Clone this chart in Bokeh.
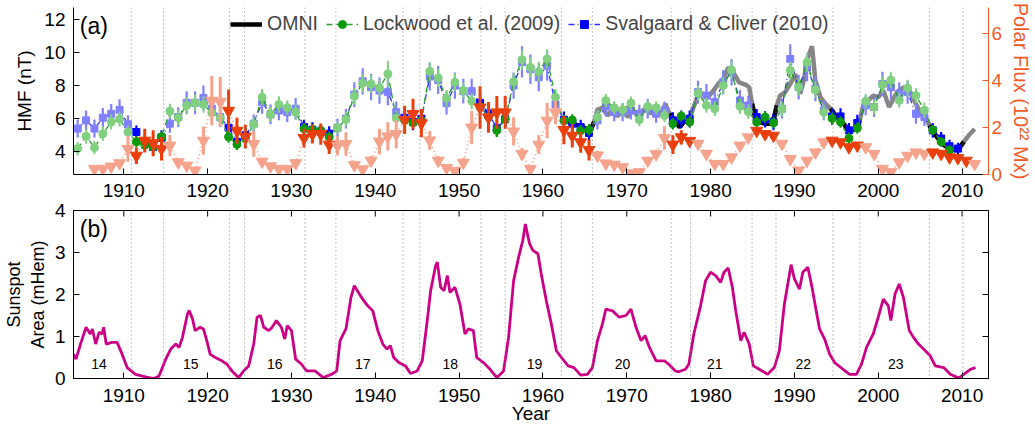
import numpy as np
from bokeh.plotting import figure
from bokeh.layouts import column
from bokeh.models import Range1d, LinearAxis, Span, Legend, LegendItem, FixedTicker, Label
from bokeh.core.properties import value
from bokeh.embed import file_html
from bokeh.resources import INLINE

FONT = "Liberation Sans"

# ---------------- data ----------------
LOCK_START = 1904
LOCKWOOD = [4.16, 4.91, 4.22, 5.07, 5.78, 5.96, 5.17, 4.57, 4.36, 4.26, 4.87, 6.44, 6.04, 6.79, 6.95,
            6.85, 6.35, 6.04, 4.87, 4.42, 4.77, 5.64, 7.29, 6.24, 6.85, 6.65, 6.38, 5.37, 5.31, 5.27,
            4.87, 5.43, 5.94, 7.35, 8.14, 8.10, 7.86, 8.71, 6.02, 5.88, 5.74, 5.88, 8.87, 8.46, 7.23,
            8.20, 7.70, 7.05, 6.70, 6.10, 5.27, 5.94, 8.24, 9.58, 9.11, 8.85, 9.62, 7.29, 5.85, 5.90,
            5.25, 5.31, 6.08, 7.09, 6.65, 6.53, 6.93, 5.92, 6.73, 6.65, 6.18, 5.68, 6.14, 5.78, 7.54,
            6.79, 6.59, 8.00, 8.95, 6.73, 6.41, 5.78, 6.08, 5.73, 6.57, 8.92, 7.90, 9.41, 7.74, 6.38,
            6.00, 5.78, 4.79, 5.41, 7.04, 6.69, 8.05, 8.34, 7.11, 7.85, 7.39, 6.50, 5.29, 4.57, 4.06]
LOCK_ERR = [0.4, 0.45, 0.4, 0.45, 0.45, 0.45, 0.4, 0.35, 0.35, 0.35, 0.35, 0.45, 0.45, 0.5, 0.5,
            0.5, 0.45, 0.45, 0.35, 0.35, 0.35, 0.4, 0.5, 0.45, 0.5, 0.45, 0.45, 0.35, 0.35, 0.35,
            0.35, 0.4, 0.45, 0.5, 0.55, 0.55, 0.55, 0.8, 0.45, 0.4, 0.4, 0.4, 0.55, 0.55, 0.5,
            0.55, 0.5, 0.5, 0.4, 0.4, 0.4, 0.4, 0.55, 0.6, 0.6, 0.6, 0.6, 0.5, 0.35, 0.35,
            0.35, 0.35, 0.4, 0.4, 0.4, 0.4, 0.4, 0.4, 0.4, 0.4, 0.4, 0.35, 0.35, 0.35, 0.45,
            0.45, 0.45, 0.5, 0.55, 0.45, 0.45, 0.35, 0.35, 0.35, 0.45, 0.55, 0.5, 0.55, 0.5, 0.45,
            0.35, 0.35, 0.35, 0.35, 0.45, 0.45, 0.5, 0.5, 0.45, 0.5, 0.45, 0.45, 0.3, 0.3, 0.3]

SVAL_START = 1904
SVALGAARD = [5.38, 5.88, 5.38, 6.04, 6.28, 6.52, 5.64, 5.17, 4.57, 4.26, 4.83, 5.68, 6.08, 6.95, 6.95,
             7.25, 6.60, 6.08, 5.43, 4.57, 4.97, 5.68, 6.99, 6.24, 6.48, 6.38, 6.59, 5.47, 5.31, 5.17,
             5.07, 5.43, 5.98, 7.45, 8.26, 7.90, 7.70, 7.60, 6.38, 6.04, 5.78, 5.98, 8.55, 8.34, 6.93,
             8.00, 7.66, 7.66, 6.95, 6.30, 5.40, 5.95, 8.00, 9.45, 9.00, 8.51, 9.21, 6.85, 5.92, 5.68,
             5.47, 5.11, 5.88, 6.73, 6.38, 6.38, 6.48, 6.28, 6.59, 6.28, 6.48, 5.88, 5.92, 5.98, 7.60,
             7.39, 6.99, 8.20, 8.80, 7.09, 6.79, 6.08, 5.94, 5.78, 6.59, 9.62, 7.90, 9.11, 7.80, 6.48,
             6.12, 6.12, 5.27, 5.72, 6.79, 6.69, 8.10, 7.90, 7.50, 7.60, 6.28, 6.08, 5.27, 4.77, 4.30,
             4.16]
SVAL_ERR = [0.55, 0.6, 0.55, 0.6, 0.6, 0.65, 0.55, 0.4, 0.45, 0.4, 0.45, 0.55, 0.6, 0.7, 0.7,
            0.75, 0.7, 0.6, 0.45, 0.45, 0.45, 0.55, 0.7, 0.6, 0.6, 0.6, 0.65, 0.45, 0.45, 0.45,
            0.45, 0.55, 0.6, 0.75, 0.8, 0.8, 0.8, 0.8, 0.65, 0.5, 0.5, 0.5, 0.85, 0.85, 0.7,
            0.8, 0.75, 0.75, 0.6, 0.6, 0.5, 0.55, 0.8, 0.95, 0.9, 0.85, 0.9, 0.7, 0.5, 0.5,
            0.45, 0.45, 0.55, 0.6, 0.55, 0.55, 0.55, 0.55, 0.6, 0.55, 0.55, 0.5, 0.5, 0.5, 0.7,
            0.7, 0.65, 0.75, 0.8, 0.65, 0.6, 0.5, 0.5, 0.5, 0.6, 0.9, 0.75, 0.85, 0.75, 0.6,
            0.5, 0.5, 0.45, 0.5, 0.6, 0.6, 0.75, 0.75, 0.7, 0.7, 0.6, 0.55, 0.45, 0.4, 0.4,
            0.35]

FLUX_START = 1906
POLAR_FLUX = [0.24, 0.24, 0.34, 0.48, 1.09, 0.80, 1.44, 1.33, 1.09, 1.23, 0.52, 0.38, 0.17, 1.44,
              3.14, 3.09, 2.71, 1.86, 1.61, 1.30, 0.55, 0.35, 0.24, 0.24, 0.48, 1.55, 1.72, 1.72,
              1.27, 1.22, 1.30, 0.40, 0.22, 0.59, 1.40, 1.62, 1.72, 2.32, 2.57, 2.18, 1.45, 0.59,
              0.28, 0.15, 0.50, 2.00, 2.85, 2.43, 2.64, 2.64, 1.83, 0.88, 0.24, 1.27, 2.29, 2.64,
              1.89, 1.65, 1.37, 1.04, 0.81, 0.47, 0.42, 0.31, 0.05, 0.10, 0.59, 0.86, 1.55, 1.27,
              1.58, 1.43, 1.31, 0.88, 0.45, 0.45, 0.73, 1.23, 1.58, 1.86, 1.72, 1.65, 1.31, 0.66,
              0.17, 0.59, 0.94, 1.37, 1.44, 1.37, 1.16, 1.23, 1.16, 0.88, 0.24, 0.10, 0.52, 0.80,
              0.94, 0.88, 0.94, 0.88, 0.73, 0.70, 0.59, 0.45]
FLUX_ERR = [0.1, 0.1, 0.1, 0.12, 0.55, 0.35, 0.5, 0.55, 0.5, 0.45, 0.15, 0.12, 0.1, 0.6,
            1.05, 1.05, 0.9, 0.55, 0.5, 0.55, 0.12, 0.12, 0.1, 0.1, 0.15, 0.4, 0.4, 0.45,
            0.4, 0.4, 0.5, 0.12, 0.1, 0.2, 0.55, 0.6, 0.6, 0.6, 0.65, 0.6, 0.4, 0.2,
            0.1, 0.08, 0.2, 0.7, 0.9, 0.65, 0.7, 0.7, 0.6, 0.25, 0.1, 0.4, 0.75, 0.5,
            0.6, 0.5, 0.45, 0.45, 0.2, 0.1, 0.1, 0.1, 0.08, 0.08, 0.15, 0.2, 0.5, 0.4,
            0.3, 0.15, 0.1, 0.1, 0.08, 0.08, 0.1, 0.1, 0.12, 0.12, 0.1, 0.1, 0.1, 0.08,
            0.08, 0.08, 0.1, 0.1, 0.1, 0.1, 0.1, 0.1, 0.1, 0.08, 0.08, 0.08, 0.08, 0.1,
            0.1, 0.1, 0.1, 0.1, 0.1, 0.1, 0.08, 0.08]

OMNI_T = [1962.8, 1963.6, 1964.4, 1965.2, 1965.7, 1966.1, 1966.5, 1967.1, 1967.7, 1968.3, 1968.9,
          1969.5, 1970.1, 1970.7, 1971.3, 1971.9, 1972.5, 1972.9, 1973.5, 1974.1, 1974.6, 1975.1,
          1975.6, 1976.3, 1976.8, 1977.4, 1977.9, 1978.4, 1979.0, 1979.6, 1980.2, 1980.9, 1981.5,
          1982.1, 1982.6, 1983.4, 1984.2, 1984.6, 1984.95, 1985.3, 1985.9, 1986.5, 1987.1, 1987.6,
          1987.9, 1988.3, 1988.9, 1989.5, 1990.1, 1990.7, 1991.2, 1991.6, 1992.1, 1992.5, 1993.1,
          1993.7, 1994.3, 1994.9, 1995.5, 1996.1, 1996.6, 1997.2, 1997.8, 1998.2, 1998.8, 1999.4,
          2000.0, 2000.6, 2001.3, 2002.0, 2002.5, 2003.1, 2003.7, 2004.3, 2004.9, 2005.5, 2006.1,
          2006.7, 2007.3, 2007.9, 2008.5, 2009.1, 2009.6, 2010.2, 2010.8, 2011.5]
OMNI_V = [5.88, 5.68, 5.52, 5.37, 5.31, 5.78, 6.53, 6.65, 6.18, 6.53, 6.12,
          6.59, 6.08, 6.53, 6.12, 6.48, 6.65, 6.28, 6.65, 6.18, 6.89, 6.28,
          5.88, 5.47, 5.78, 5.88, 6.59, 7.29, 7.54, 7.25, 7.60, 8.10, 8.40,
          9.10, 8.90, 8.20, 8.05, 7.90, 6.90, 6.08, 5.78, 5.68, 5.68, 6.08,
          6.79, 7.39, 7.60, 8.10, 8.70, 7.50, 8.50, 9.72, 10.4, 8.30, 7.29,
          6.89, 6.59, 6.18, 5.88, 5.52, 5.17, 5.37, 5.88, 6.79, 7.09, 7.39,
          7.29, 7.70, 6.69, 7.39, 7.70, 7.90, 7.70, 7.09, 6.48, 6.18, 5.58,
          5.07, 4.67, 4.36, 4.16, 4.06, 4.16, 4.57, 4.97, 5.35]

SSA_T = [1904.0, 1904.3, 1904.9, 1905.5, 1906.0, 1906.25, 1906.65, 1907.05, 1907.4, 1907.6, 1907.9,
         1908.6, 1909.2, 1909.8, 1910.4, 1911.4, 1912.6, 1913.6, 1914.2, 1915.0, 1915.6, 1916.2,
         1916.6, 1917.0, 1917.6, 1917.8, 1918.2, 1918.5, 1919.1, 1919.5, 1919.9, 1920.3, 1920.9,
         1921.7, 1922.3, 1922.9, 1923.7, 1924.3, 1924.9, 1925.5, 1925.9, 1926.3, 1926.7, 1927.3,
         1927.7, 1928.2, 1928.8, 1929.2, 1929.5, 1930.0, 1930.5, 1931.2, 1931.8, 1932.8, 1933.8,
         1934.8, 1935.4, 1935.8, 1936.5, 1937.1, 1937.5, 1938.1, 1938.5, 1939.1, 1939.7, 1940.3,
         1940.9, 1941.4, 1941.8, 1942.2, 1942.8, 1943.6, 1944.2, 1945.0, 1945.6, 1946.2, 1946.6,
         1947.2, 1947.4, 1947.8, 1948.2, 1948.6, 1948.9, 1949.5, 1950.1, 1950.7, 1951.1, 1951.7,
         1952.1, 1952.9, 1953.7, 1954.5, 1955.3, 1955.9, 1956.5, 1957.1, 1957.6, 1957.9, 1958.4,
         1958.8, 1959.4, 1959.8, 1960.4, 1961.0, 1961.6, 1962.2, 1963.0, 1963.7, 1964.5, 1965.3,
         1965.9, 1966.5, 1967.1, 1967.5, 1968.3, 1969.1, 1969.9, 1970.5, 1971.1, 1971.7, 1972.2,
         1972.7, 1973.5, 1974.5, 1975.0, 1975.8, 1976.2, 1977.0, 1977.4, 1978.0, 1978.8, 1979.4,
         1980.0, 1980.6, 1981.2, 1981.6, 1982.1, 1982.6, 1983.0, 1983.6, 1984.0, 1984.6, 1985.1,
         1985.8, 1986.8, 1987.6, 1988.2, 1988.8, 1989.6, 1990.0, 1990.6, 1991.0, 1991.6, 1992.1,
         1992.6, 1993.0, 1993.6, 1994.2, 1994.8, 1995.8, 1996.6, 1997.4, 1998.0, 1998.6, 1999.4,
         2000.0, 2000.6, 2001.2, 2001.5, 2002.0, 2002.5, 2003.0, 2003.7, 2004.2, 2004.8, 2005.4,
         2006.2, 2006.8, 2007.8, 2008.6, 2009.6, 2010.2, 2011.0, 2011.6]
SSA_V = [0.58, 0.46, 0.86, 1.22, 1.06, 1.18, 0.82, 1.10, 1.06, 1.22, 0.82,
         0.86, 0.86, 0.58, 0.26, 0.10, 0.04, 0.00, 0.06, 0.46, 0.70, 0.82,
         0.74, 0.98, 1.54, 1.62, 1.42, 1.14, 1.22, 1.18, 0.90, 0.58, 0.50,
         0.42, 0.34, 0.18, 0.02, 0.18, 0.30, 0.82, 1.46, 1.50, 1.22, 1.14,
         1.22, 1.38, 1.22, 0.94, 1.26, 1.14, 0.46, 0.34, 0.18, 0.18, 0.02,
         0.10, 0.18, 0.90, 1.18, 1.93, 2.21, 2.01, 1.89, 1.73, 1.61, 1.14,
         0.82, 0.70, 0.78, 0.50, 0.38, 0.30, 0.12, 0.18, 0.42, 1.38, 2.09,
         2.69, 2.77, 2.17, 2.09, 2.45, 2.05, 2.17, 1.77, 1.06, 1.18, 1.14,
         0.50, 0.38, 0.22, 0.02, 0.18, 0.98, 2.33, 2.89, 3.29, 3.68, 3.21,
         3.05, 2.97, 2.49, 1.85, 1.30, 0.66, 0.50, 0.30, 0.26, 0.08, 0.10,
         0.26, 0.90, 1.30, 1.65, 1.61, 1.46, 1.50, 1.65, 1.22, 0.90, 1.02,
         0.74, 0.42, 0.42, 0.34, 0.18, 0.16, 0.22, 0.34, 1.06, 1.73, 2.33,
         2.53, 2.45, 2.29, 2.53, 2.63, 2.17, 1.61, 0.90, 1.10, 0.82, 0.30,
         0.22, 0.10, 0.26, 0.66, 1.77, 2.71, 2.37, 2.13, 2.53, 2.65, 2.17,
         1.61, 1.18, 0.94, 0.58, 0.38, 0.22, 0.10, 0.10, 0.34, 0.74, 1.06,
         1.46, 1.89, 1.73, 1.38, 2.01, 2.25, 1.93, 1.14, 0.98, 0.82, 0.70,
         0.54, 0.30, 0.26, 0.10, 0.01, 0.10, 0.22, 0.26]

CYCLE_NUMS = ["14", "15", "16", "17", "18", "19", "20", "21", "22", "23"]
CYCLE_X = [1907.05, 1918.0, 1928.0, 1938.5, 1948.95, 1959.0, 1969.5, 1980.5, 1991.05, 2002.1]

# dotted lines bounding the solar minimum intervals
MIN_LINES = [(1910.9, 1914.75), (1922.6, 1924.4), (1931.6, 1935.3), (1943.3, 1945.3),
             (1952.6, 1955.5), (1962.2, 1965.9), (1975.3, 1977.6), (1984.95, 1987.8),
             (1994.6, 1997.8), (2006.1, 2010.1)]
# annual means treated as "minimum" years (dark symbols)
MIN_YEARS = [(1911, 1914), (1922, 1924), (1931, 1934), (1943, 1945), (1952, 1955),
             (1962, 1965), (1975, 1977), (1985, 1987), (1994, 1997), (2006, 2010)]

XTICKS = [1910, 1920, 1930, 1940, 1950, 1960, 1970, 1980, 1990, 2000, 2010]
HMF_TICKS = [4, 6, 8, 10, 12]
FLUX_TICKS = [0, 2, 4, 6]
SSA_TICKS = [0, 1, 2, 3, 4]

# ---------------- colours ----------------
G_LIGHT, G_DARK, G_LINE = "#80d080", "#0a9a0a", "#2aa02a"
B_LIGHT, B_DARK, B_LINE = "#8080ff", "#0000ff", "#3030ff"
F_LIGHT, F_DARK, F_AXIS = "#f5a38c", "#ea3f0c", "#f05a28"
SSA_COL = "#cc0085"


def is_min(yr):
    return any(a <= int(yr) <= b for a, b in MIN_YEARS)


def style_axis(ax, size="19px"):
    ax.major_label_text_font = FONT
    ax.major_label_text_font_size = size
    ax.axis_label_text_font = FONT
    ax.axis_label_text_font_size = size
    ax.axis_label_text_font_style = "normal"
    ax.major_tick_in = 6
    ax.major_tick_out = 0
    ax.minor_tick_line_color = None
    ax.axis_line_color = "black"
    ax.major_tick_line_color = "black"
    ax.major_label_text_color = "black"
    ax.axis_label_text_color = "black"


X0, X1 = 1904.0, 2013.15
FLUX_RANGE = (0, 7.1)
px_per_year = 921.0 / (X1 - X0)

# ---------------- panel (a) ----------------
p1 = figure(width=1035, height=206, x_range=Range1d(X0, X1), y_range=Range1d(2.58, 12.76),
            output_backend="svg", toolbar_location=None,
            min_border_left=71, min_border_right=43, min_border_top=7, min_border_bottom=32)
p1.outline_line_color = None
p1.grid.visible = False
p1.extra_y_ranges = {"flux": Range1d(*FLUX_RANGE)}

p1.xaxis.ticker = FixedTicker(ticks=XTICKS)
p1.yaxis.ticker = FixedTicker(ticks=HMF_TICKS)
p1.yaxis.axis_label = "HMF (nT)"
for ax in p1.xaxis + p1.yaxis:
    style_axis(ax)
p1.xaxis.major_label_standoff = 9
p1.yaxis.major_label_standoff = 8
p1.yaxis.axis_label_standoff = 6

rax = LinearAxis(y_range_name="flux", ticker=FixedTicker(ticks=FLUX_TICKS),
                 axis_label="Polar Flux (10²² Mx)")
style_axis(rax)
rax.axis_label_text_font_size = "20px"
rax.axis_line_color = F_AXIS
rax.major_tick_line_color = F_AXIS
rax.major_label_text_color = F_AXIS
rax.axis_label_text_color = F_AXIS
rax.major_label_standoff = 3
rax.axis_label_standoff = 5
p1.add_layout(rax, "right")

for a, b in MIN_LINES:
    for loc in (a, b):
        p1.add_layout(Span(location=loc, dimension="height", line_color="#8a8a8a",
                           line_dash="1 3", line_width=1))

# OMNI
omni_t = np.array(OMNI_T)
omni_v = np.array(OMNI_V)
p1.line(omni_t, omni_v, line_color="#808080", line_width=4.5, line_alpha=0.95)
bxs, bys = [], []
for a, b in MIN_LINES:
    m = (omni_t >= a - 0.3) & (omni_t <= b + 0.3)
    if m.sum() >= 2:
        bxs.append(list(omni_t[m]))
        bys.append(list(omni_v[m]))
omni_black = p1.multi_line(bxs, bys, line_color="black", line_width=4.5)

# Svalgaard & Cliver
sx = [SVAL_START + i + 0.5 for i in range(len(SVALGAARD))]
scol = [B_DARK if is_min(x) else B_LIGHT for x in sx]
p1.segment(sx, [v - e for v, e in zip(SVALGAARD, SVAL_ERR)], sx,
           [v + e for v, e in zip(SVALGAARD, SVAL_ERR)], line_color=scol, line_width=2.2)
sval_line = p1.line(sx, SVALGAARD, line_color=B_LINE, line_width=1.3, line_dash="6 3 1 3")
p1.scatter(sx, SVALGAARD, marker="square", size=7, fill_color=scol, line_color=scol)
sval_leg = p1.scatter([sx[10]], [SVALGAARD[10]], marker="square", size=7,
                      fill_color=B_DARK, line_color=B_DARK)

# Lockwood
lx = [LOCK_START + i + 0.5 for i in range(len(LOCKWOOD))]
lcol = [G_DARK if is_min(x) else G_LIGHT for x in lx]
p1.segment(lx, [v - e for v, e in zip(LOCKWOOD, LOCK_ERR)], lx,
           [v + e for v, e in zip(LOCKWOOD, LOCK_ERR)], line_color=lcol, line_width=2)
lock_line = p1.line(lx, LOCKWOOD, line_color=G_LINE, line_width=1.3, line_dash="6 4")
p1.scatter(lx, LOCKWOOD, marker="circle", size=8, fill_color=lcol, line_color=lcol)
lock_leg = p1.scatter([lx[10]], [LOCKWOOD[10]], marker="circle", size=8,
                      fill_color=G_DARK, line_color=G_DARK)

# Polar flux
fx = [FLUX_START + i + 0.5 for i in range(len(POLAR_FLUX))]
fcol = [F_DARK if is_min(x) else F_LIGHT for x in fx]
p1.line(fx, POLAR_FLUX, y_range_name="flux", line_color=F_LIGHT, line_width=2, line_dash="1 3")
p1.segment(fx, [v - e for v, e in zip(POLAR_FLUX, FLUX_ERR)], fx,
           [v + e for v, e in zip(POLAR_FLUX, FLUX_ERR)], y_range_name="flux",
           line_color=fcol, line_width=3)
p1.scatter(fx, POLAR_FLUX, y_range_name="flux", marker="inverted_triangle", size=12,
           fill_color=fcol, line_color=fcol)

legend = Legend(items=[LegendItem(label="OMNI", renderers=[omni_black]),
                       LegendItem(label="Lockwood et al. (2009)", renderers=[lock_line, lock_leg]),
                       LegendItem(label="Svalgaard & Cliver (2010)", renderers=[sval_line, sval_leg])],
                orientation="horizontal", location=(157, 139), padding=0, margin=0, spacing=8,
                glyph_width=32, glyph_height=20, label_standoff=5, label_text_font=FONT,
                label_text_font_size="19.5px", background_fill_alpha=0, border_line_alpha=0)
p1.add_layout(legend, "center")
p1.add_layout(Label(x=1904.75, y=11.65, text="(a)", text_font=FONT, text_font_size="23px",
                    text_baseline="middle", text_color="black"))

# ---------------- panel (b) ----------------
p2 = figure(width=1035, height=227, x_range=Range1d(X0, X1), y_range=Range1d(0, 4),
            output_backend="svg", toolbar_location=None,
            min_border_left=71, min_border_right=43, min_border_top=11, min_border_bottom=48)
p2.margin = (-7, 0, 0, 0)
p2.border_fill_alpha = 0
p2.outline_line_color = "black"
p2.outline_line_width = 1
p2.grid.visible = False
p2.xaxis.ticker = FixedTicker(ticks=XTICKS)
p2.yaxis.ticker = FixedTicker(ticks=SSA_TICKS)
p2.xaxis.axis_label = "Year"
p2.yaxis.axis_label = "Sunspot\nArea (mHem)"
for ax in p2.xaxis + p2.yaxis:
    style_axis(ax)
p2.yaxis.axis_label_text_font_size = "18px"
p2.xaxis.major_label_standoff = 10
p2.xaxis.axis_label_standoff = -2
p2.yaxis.major_label_standoff = 8
p2.yaxis.axis_label_standoff = 4

# inward ticks on the top and right edges of the box
tick_len_y = 6 * 4.0 / 168.0
tick_len_x = 6 / px_per_year
p2.segment(XTICKS, [4] * len(XTICKS), XTICKS, [4 - tick_len_y] * len(XTICKS),
           line_color="black", line_width=1)
p2.segment([X1] * len(SSA_TICKS), SSA_TICKS, [X1 - tick_len_x] * len(SSA_TICKS), SSA_TICKS,
           line_color="black", line_width=1)

for a, b in MIN_LINES:
    for loc in (a, b):
        p2.add_layout(Span(location=loc, dimension="height", line_color="#8a8a8a",
                           line_dash="1 3", line_width=1))

p2.line(SSA_T, SSA_V, line_color=SSA_COL, line_width=2.8)
p2.text(x=CYCLE_X, y=[0.34] * len(CYCLE_X), text=CYCLE_NUMS, text_font=value(FONT),
        text_font_size="14px", text_align="center", text_baseline="middle", text_color="black")
p2.add_layout(Label(x=1904.75, y=3.55, text="(b)", text_font=FONT, text_font_size="23px",
                    text_baseline="middle", text_color="black"))

layout = column(p1, p2, spacing=0)
open("out.html", "w").write(file_html(layout, INLINE))
